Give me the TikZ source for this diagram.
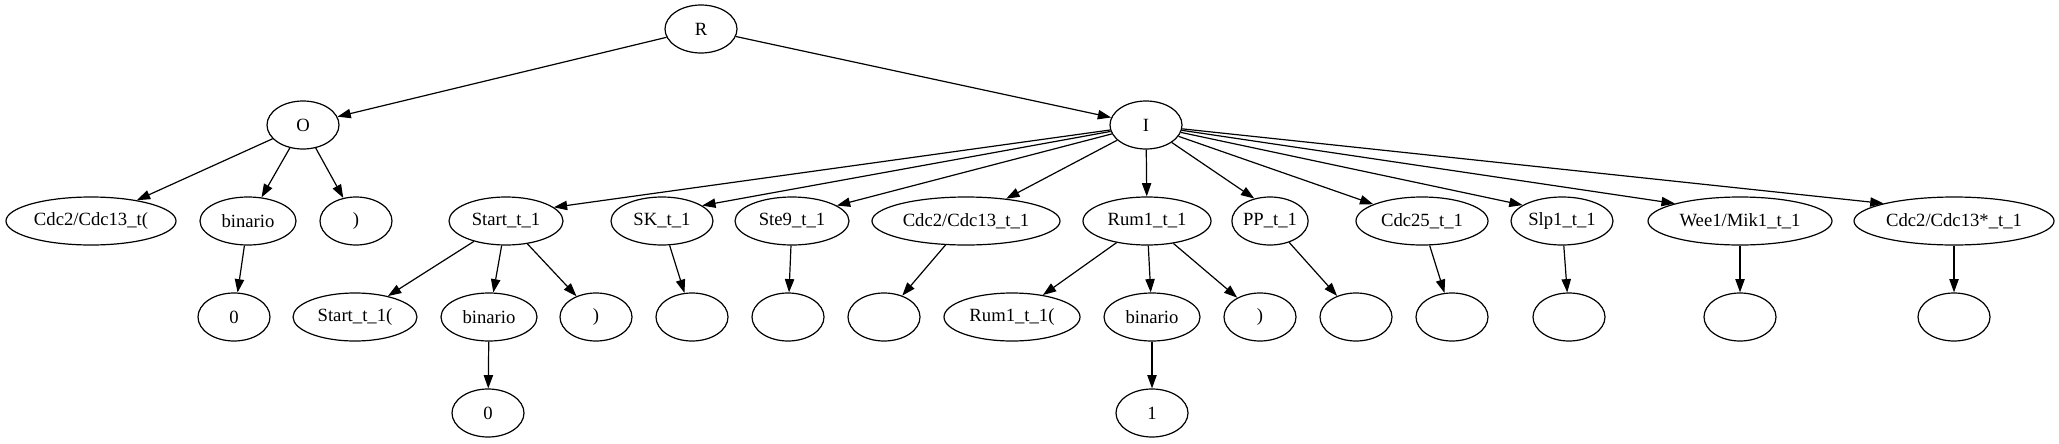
\documentclass[tikz,border=0pt]{standalone}
\usepackage{fontspec}
\setmainfont{Liberation Serif}
\usetikzlibrary{shapes.geometric,arrows.meta}
\begin{document}
\begin{tikzpicture}[x=0.75pt,y=-0.75pt,
  nd/.style={ellipse,draw,line width=0.9pt,inner sep=0pt,minimum height=36pt,minimum width=54pt,font=\fontsize{14}{16}\selectfont},
  ar/.style={-{Triangle[length=10pt,width=7pt]},line width=0.9pt}]
\useasboundingbox (0,0) rectangle (2059,443);
% rank 0-1
\node[nd] (R) at (701,29) {R};
\node[nd] (O) at (303,125) {O};
\node[nd] (I) at (1146,125) {I};
% rank 2
\node[nd,minimum width=127.5pt] (a1) at (91,221) {Cdc2/Cdc13\_t(};
\node[nd,minimum width=72pt] (a2) at (248,221) {binario};
\node[nd] (a3) at (356,221) {)};
\node[nd,minimum width=85.5pt] (b1) at (506,221) {Start\_t\_1};
\node[nd,minimum width=76.5pt] (b2) at (662,221) {SK\_t\_1};
\node[nd,minimum width=85.5pt] (b3) at (792,221) {Ste9\_t\_1};
\node[nd,minimum width=141pt] (b4) at (966,221) {Cdc2/Cdc13\_t\_1};
\node[nd,minimum width=96pt] (b5) at (1147,221) {Rum1\_t\_1};
\node[nd] (b6) at (1270,221) {PP\_t\_1};
\node[nd,minimum width=99pt] (b7) at (1422,221) {Cdc25\_t\_1};
\node[nd,minimum width=76.5pt] (b8) at (1562,221) {Slp1\_t\_1};
\node[nd,minimum width=138pt] (b9) at (1740,221) {Wee1/Mik1\_t\_1};
\node[nd,minimum width=150pt] (b10) at (1954,221) {Cdc2/Cdc13*\_t\_1};
% rank 3
\node[nd] (c0) at (234,317) {0};
\node[nd,minimum width=93pt] (c1) at (355,317) {Start\_t\_1(};
\node[nd,minimum width=72pt] (c2) at (489,317) {binario};
\node[nd] (c3) at (596,317) {)};
\node[nd] (e2) at (692,317) {};
\node[nd] (e3) at (788,317) {};
\node[nd] (e4) at (884,317) {};
\node[nd,minimum width=102pt] (c5) at (1012,317) {Rum1\_t\_1(};
\node[nd,minimum width=72pt] (c6) at (1152,317) {binario};
\node[nd] (c7) at (1260,317) {)};
\node[nd] (e6) at (1356,317) {};
\node[nd] (e7) at (1452,317) {};
\node[nd] (e8) at (1569,317) {};
\node[nd] (e9) at (1740,317) {};
\node[nd] (e10) at (1954,317) {};
% rank 4
\node[nd] (d1) at (488,413) {0};
\node[nd] (d2) at (1152,413) {1};
% edges
\draw[ar] (R) -- (O);
\draw[ar] (R) -- (I);
\draw[ar] (O) -- (a1);
\draw[ar] (O) -- (a2);
\draw[ar] (O) -- (a3);
\draw[ar] (a2) -- (c0);
\draw[ar] (I) -- (b1.16);
\draw[ar] (I) -- (b2.21);
\draw[ar] (I) -- (b3.19);
\draw[ar] (I) -- (b4.29);
\draw[ar] (I) -- (b5);
\draw[ar] (I) -- (b6.125);
\draw[ar] (I) -- (b7.161);
\draw[ar] (I) -- (b8.158);
\draw[ar] (I) -- (b9.165);
\draw[ar] (I) -- (b10.166);
\draw[ar] (b1) -- (c1);
\draw[ar] (b1) -- (c2);
\draw[ar] (b1) -- (c3);
\draw[ar] (c2) -- (d1);
\draw[ar] (b2) -- (e2);
\draw[ar] (b3) -- (e3);
\draw[ar] (b4) -- (e4);
\draw[ar] (b5) -- (c5);
\draw[ar] (b5) -- (c6);
\draw[ar] (b5) -- (c7);
\draw[ar] (c6) -- (d2);
\draw[ar] (b6) -- (e6);
\draw[ar] (b7) -- (e7);
\draw[ar] (b8) -- (e8);
\draw[ar] (b9) -- (e9);
\draw[ar] (b10) -- (e10);
\end{tikzpicture}
\end{document}
